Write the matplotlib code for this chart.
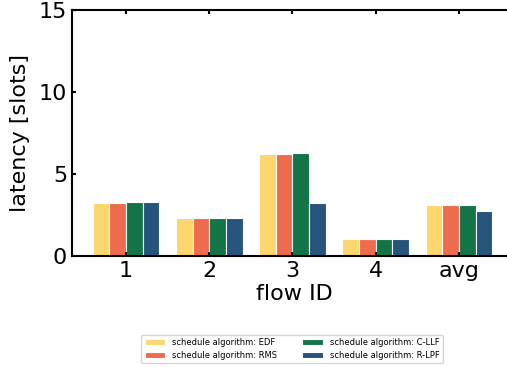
import matplotlib
matplotlib.use("Agg")
import matplotlib.pyplot as plt
import numpy as np

flows = ["1", "2", "3", "4", "avg"]
algorithms = ["EDF", "RMS", "C-LLF", "R-LPF"]
edf = [3.22, 2.3, 6.22, 1.02, 3.1]
rms = [3.22, 2.3, 6.22, 1.02, 3.1]
cllf = [3.28, 2.3, 6.28, 1.02, 3.1]
rlpf = [3.28, 2.3, 3.22, 1.02, 2.74]
colors = ["#fdd76e", "#ee6c4d", "#137547", "#26547c"]

fig = plt.figure(figsize=(5.07, 3.67), dpi=100)
ax = fig.add_axes([0.142, 0.302, 0.878, 0.671])

x = np.arange(len(flows))
w = 0.2
for i, (vals, name) in enumerate(zip([edf, rms, cllf, rlpf], algorithms)):
    ax.bar(x + (i - 1.5) * w, vals, w, color=colors[i], edgecolor="white",
           linewidth=0.8, label="schedule algorithm: " + name)

ax.set_xlim(-0.65, 4.7)
ax.set_ylim(0, 15)
ax.set_yticks([0, 5, 10, 15])
ax.set_xticks(x)
ax.set_xticklabels(flows)
ax.tick_params(direction="in", labelsize=16, top=True, width=1.5, length=3)
for s in ax.spines.values():
    s.set_linewidth(1.5)
ax.spines["right"].set_visible(False)
ax.set_xlabel("flow ID", fontsize=16, labelpad=2)
ax.set_ylabel("latency [slots]", fontsize=16, labelpad=6)

fig.legend(loc="center", bbox_to_anchor=(0.576, 0.049), ncol=2, fontsize=6,
           handlelength=2.5, columnspacing=3)

fig.savefig("out.png", dpi=100)
